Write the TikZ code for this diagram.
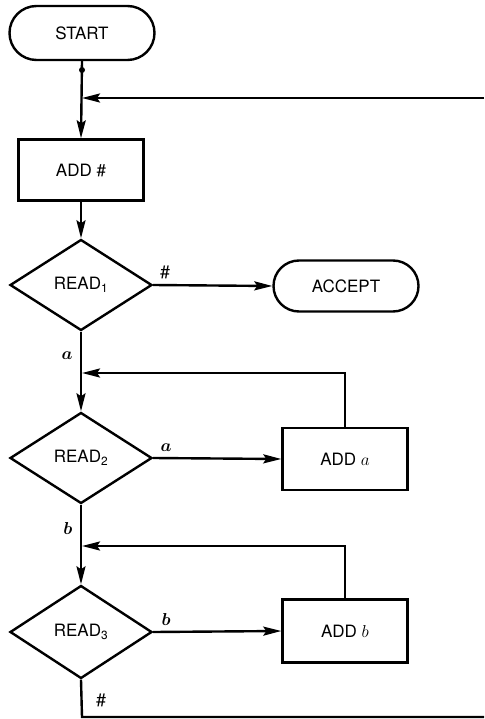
\documentclass[tikz,border=0pt]{standalone}
\usepackage{fontspec}
\setmainfont{TeX Gyre Heros}
\usetikzlibrary{shapes.geometric,shapes.misc,arrows.meta}
\begin{document}
\begin{tikzpicture}[x=1pt,y=-1pt,
  every node/.style={font=\fontsize{17}{19}\selectfont},
  arr/.style={line width=2.4pt, -{Stealth[length=18pt,width=9pt,inset=3pt]}},
  pill/.style={draw, line width=2.4pt, rounded rectangle, minimum width=145pt, minimum height=54pt, inner sep=0pt},
  boxnode/.style={draw, line width=2.4pt, rectangle, minimum width=125pt, minimum height=61pt, inner sep=0pt},
  decision/.style={draw, line width=2.4pt, diamond, aspect=1.58, minimum width=142pt, minimum height=91pt, inner sep=0pt},
  lab/.style={font=\fontsize{18}{20}\selectfont\boldmath}]
\useasboundingbox (0,0) rectangle (484,719);
\node[pill] (start) at (82,33) {START};
\node[boxnode] (addh) at (81,170) {ADD \#};
\node[decision] (r1) at (81,285) {READ\textsubscript{1}};
\node[pill, minimum height=51pt] (acc) at (346,286) {ACCEPT};
\node[decision] (r2) at (81,458) {READ\textsubscript{2}};
\node[boxnode, minimum height=62pt] (adda) at (345,459) {ADD $a$};
\node[decision, minimum height=93pt] (r3) at (81,632) {READ\textsubscript{3}};
\node[boxnode, minimum height=63pt] (addb) at (345,631) {ADD $b$};
\coordinate (dot) at (82,70);
\coordinate (j0) at (82,98);
\coordinate (rin) at (484,98);
\coordinate (j1) at (82,373);
\coordinate (j2) at (82,546);
\coordinate (bot) at (82,717);
\coordinate (bout) at (484,717);
\draw[arr] (start.south) -- (addh.north);
\fill (dot) circle (3pt);
\draw[arr] (rin) -- (j0);
\draw[arr] (addh.south) -- (r1.north);
\draw[arr] (r1.east) -- node[pos=0.1, above=2pt, lab] {\#} (acc.west);
\draw[arr] (r1.south) -- node[pos=0.3, left=4pt, lab] {$a$} (r2.north);
\draw[arr] (adda.north) |- (j1);
\draw[arr] (r2.east) -- node[pos=0.1, above=2pt, lab] {$a$} (adda.west);
\draw[arr] (r3.east) -- node[pos=0.1, above=2pt, lab] {$b$} (addb.west);
\draw[arr] (r2.south) -- node[pos=0.3, left=4pt, lab] {$b$} (r3.north);
\draw[arr] (addb.north) |- (j2);
\draw[line width=2.4pt] (r3.south) -- node[pos=0.55, right=10pt, lab] {\#} (bot) -- (bout);
\end{tikzpicture}
\end{document}
